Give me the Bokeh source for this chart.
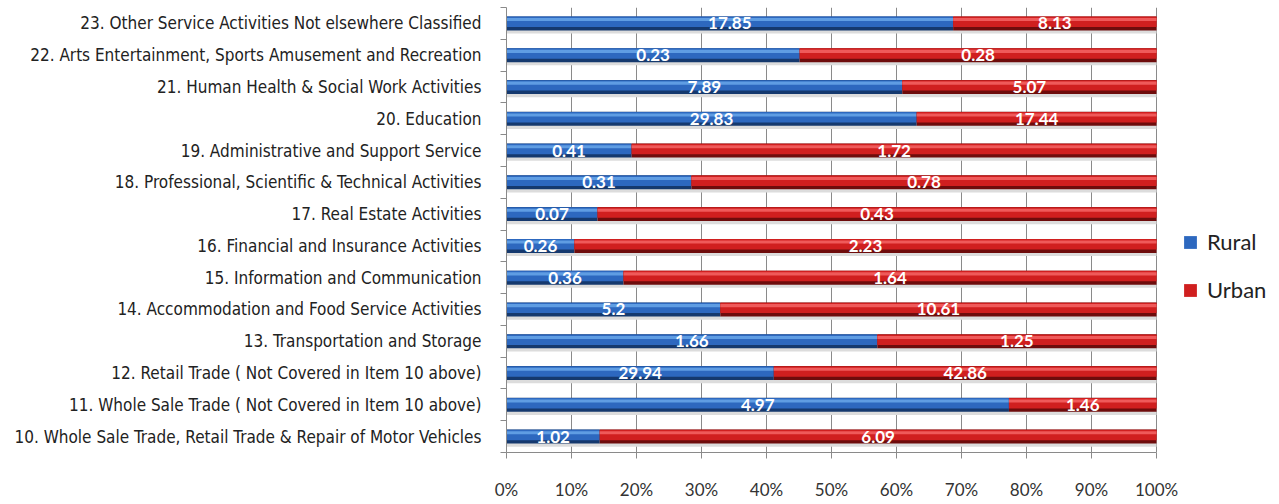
from bokeh.plotting import figure
from bokeh.models import (ColumnDataSource, Range1d, FixedTicker, PrintfTickFormatter,
                          Legend, LegendItem, LabelSet)
from bokeh.core.properties import value
from bokeh.transform import dodge
from bokeh.embed import file_html
from bokeh.resources import INLINE

# ---- data (bottom to top) ----
categories = [
    "10. Whole Sale Trade, Retail Trade & Repair of Motor Vehicles",
    "11. Whole Sale Trade ( Not Covered in Item 10 above)",
    "12. Retail Trade ( Not Covered in Item 10 above)",
    "13. Transportation and Storage",
    "14. Accommodation and Food Service Activities",
    "15. Information and Communication",
    "16. Financial and Insurance Activities",
    "17. Real Estate Activities",
    "18. Professional, Scientific & Technical Activities",
    "19. Administrative and Support Service",
    "20. Education",
    "21. Human Health & Social Work Activities",
    "22. Arts Entertainment, Sports Amusement and Recreation",
    "23. Other Service Activities Not elsewhere Classified",
]
rural = [1.02, 4.97, 29.94, 1.66, 5.2, 0.36, 0.26, 0.07, 0.31, 0.41, 29.83, 7.89, 0.23, 17.85]
urban = [6.09, 1.46, 42.86, 1.25, 10.61, 1.64, 2.23, 0.43, 0.78, 1.72, 17.44, 5.07, 0.28, 8.13]
x_ticks = [0, 10, 20, 30, 40, 50, 60, 70, 80, 90, 100]

# ---- derived (100% stacked) ----
n = len(categories)
ys = list(range(n))
rural_pct = [100.0 * r / (r + u) for r, u in zip(rural, urban)]
src = ColumnDataSource(dict(
    y=ys,
    zero=[0.0] * n,
    full=[100.0] * n,
    rpct=rural_pct,
    rmid=[p / 2.0 for p in rural_pct],
    umid=[(p + 100.0) / 2.0 for p in rural_pct],
    rtxt=[f"{v:g}" for v in rural],
    utxt=[f"{v:g}" for v in urban],
))

# frame extends right of 100% to host the legend (axis line bounded to 0-100)
p = figure(width=1275, height=502, output_backend="svg", toolbar_location=None,
           x_range=Range1d(0, 118.3), y_range=Range1d(-0.5, n - 0.5),
           min_border_left=506, min_border_right=0, min_border_top=7,
           min_border_bottom=45)
p.outline_line_color = None
p.background_fill_color = "white"
p.border_fill_color = "white"

BH = 0.44
# soft shadow under each bar
p.hbar(y=dodge("y", -0.1, range=p.y_range), left="zero", right="full", height=BH,
       source=src, fill_color="#dcdcdc", line_color=None)

def layered(left, right, dark, mid, light):
    p.hbar(y="y", left=left, right=right, height=BH, source=src,
           fill_color=dark, line_color=None)
    m = p.hbar(y=dodge("y", 0.05, range=p.y_range), left=left, right=right,
               height=BH * 0.75, source=src, fill_color=mid, line_color=None)
    p.hbar(y=dodge("y", 0.12, range=p.y_range), left=left, right=right,
           height=BH * 0.22, source=src, fill_color=light, line_color=None)
    return m

r_rural = layered("zero", "rpct", "#15396e", "#2d68bf", "#5f9de3")
r_urban = layered("rpct", "full", "#6e0c0c", "#d01f1f", "#ef5a5a")

# value labels
for xcol, tcol in (("rmid", "rtxt"), ("umid", "utxt")):
    p.add_layout(LabelSet(x=xcol, y="y", text=tcol, source=src,
                          text_align="center", text_baseline="middle",
                          text_color="white", text_font=value("Lato"),
                          text_font_style="bold", text_font_size="17px"))

# grid
p.ygrid.grid_line_color = None
p.xgrid.ticker = FixedTicker(ticks=x_ticks)
p.xgrid.grid_line_color = "#8a8a8a"
p.xgrid.grid_line_width = 1

# x axis
p.xaxis.ticker = FixedTicker(ticks=x_ticks)
p.xaxis.bounds = (0, 100)
p.xaxis.formatter = PrintfTickFormatter(format="%d%%")
p.xaxis.axis_line_color = "#8a8a8a"
p.xaxis.major_tick_line_color = "#8a8a8a"
p.xaxis.major_tick_out = 6
p.xaxis.major_tick_in = 0
p.xaxis.minor_tick_line_color = None
p.xaxis.major_label_standoff = 20
p.xaxis.major_label_text_font = "Lato"
p.xaxis.major_label_text_font_size = "17px"
p.xaxis.major_label_text_color = "#333333"

# y axis: labels at row centers, tick marks at row boundaries
p.yaxis.ticker = FixedTicker(ticks=ys, minor_ticks=[i - 0.5 for i in range(n + 1)])
p.yaxis.major_label_overrides = {i: c for i, c in zip(ys, categories)}
p.yaxis.axis_line_color = "#8a8a8a"
p.yaxis.major_tick_line_color = None
p.yaxis.minor_tick_line_color = "#8a8a8a"
p.yaxis.minor_tick_out = 6
p.yaxis.minor_tick_in = 0
p.yaxis.major_label_standoff = 19
p.yaxis.major_label_text_font = "DejaVu Sans Condensed"
p.yaxis.major_label_text_font_size = "17px"
p.yaxis.major_label_text_color = "#222222"

legend = Legend(items=[LegendItem(label="Rural", renderers=[r_rural]),
                       LegendItem(label="Urban", renderers=[r_urban])],
                location=(676, 149), orientation="vertical",
                glyph_width=16, glyph_height=16, spacing=21, padding=0, margin=0,
                label_standoff=9, label_text_font="Lato", label_text_font_size="22px",
                label_text_color="#222222", border_line_alpha=0,
                background_fill_alpha=0)
p.add_layout(legend)

open("out.html", "w").write(file_html(p, INLINE))
